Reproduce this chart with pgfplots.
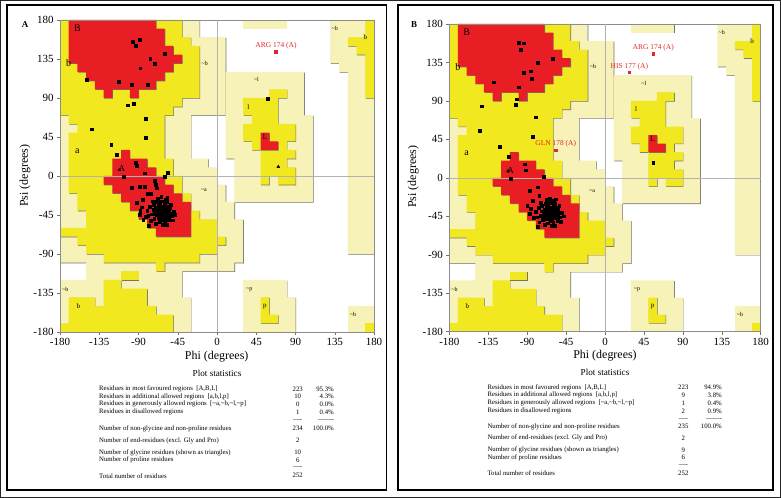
\documentclass[border=0pt]{standalone}
\usepackage{pgfplots}
\pgfplotsset{compat=1.18}
\usepackage{fontspec}
\setmainfont{Liberation Serif}
\definecolor{rcRed}{RGB}{232,30,36}
\definecolor{rcYel}{RGB}{242,232,32}
\definecolor{rcPale}{RGB}{247,242,184}
\definecolor{rcLab}{RGB}{228,40,40}

\newcommand{\rreg}[2]{%
 \addplot[draw=none, fill=black!55, forget plot, xshift=0.6bp, yshift=-0.6bp] coordinates {#2};
 \addplot[draw=none, fill=#1, forget plot] coordinates {#2};}

\newcommand{\ramaregions}{%
 \rreg{rcPale}{(-180,180)(-20,180)(-20,160)(10,160)(10,70)(-30,70)(-30,20)(-10,20)(-10,10)(0,10)(0,-10)(10,-10)(10,-30)(20,-30)(20,-50)(30,-50)(30,-100)(20,-100)(20,-110)(-40,-110)(-40,-140)(-30,-140)(-30,-180)(-180,-180)(-180,-120)(-150,-120)(-150,-100)(-180,-100)}
 \rreg{rcPale}{(30,180)(80,180)(80,170)(30,170)}
 \rreg{rcPale}{(10,120)(100,120)(100,70)(110,70)(110,-30)(20,-30)(20,20)(10,20)}
 \rreg{rcPale}{(130,180)(180,180)(180,-90)(150,-90)(150,120)(140,120)(140,130)(130,130)}
 \rreg{rcPale}{(30,-120)(80,-120)(80,-140)(90,-140)(90,-180)(30,-180)}
 \rreg{rcPale}{(150,-150)(180,-150)(180,-180)(150,-180)}
 \rreg{rcYel}{(-180,180)(-40,180)(-40,160)(-30,160)(-30,150)(-20,150)(-20,90)(-40,90)(-40,80)(-50,80)(-50,70)(-60,70)(-60,20)(-50,20)(-50,0)(-40,0)(-40,-20)(-30,-20)(-30,-40)(-20,-40)(-20,-50)(0,-50)(0,-70)(10,-70)(10,-80)(0,-80)(0,-90)(-20,-90)(-20,-100)(-60,-100)(-60,-110)(-70,-110)(-70,-100)(-130,-100)(-130,-90)(-150,-90)(-150,-80)(-160,-80)(-160,-70)(-180,-70)(-180,-60)(-150,-60)(-150,-40)(-160,-40)(-160,-20)(-170,-20)(-170,50)(-160,50)(-160,60)(-170,60)(-170,70)(-180,70)}
 \rreg{rcYel}{(-110,-110)(-90,-110)(-90,-120)(-110,-120)}
 \rreg{rcYel}{(-130,-120)(-110,-120)(-110,-130)(-80,-130)(-80,-150)(-70,-150)(-70,-160)(-50,-160)(-50,-180)(-180,-180)(-180,-170)(-170,-170)(-170,-140)(-140,-140)(-140,-150)(-130,-150)}
 \rreg{rcYel}{(60,100)(80,100)(80,90)(70,90)(70,60)(90,60)(90,40)(80,40)(80,30)(90,30)(90,20)(80,20)(80,10)(90,10)(90,-10)(70,-10)(70,0)(60,0)(60,-10)(50,-10)(50,30)(40,30)(40,40)(30,40)(30,60)(40,60)(40,70)(30,70)(30,90)(60,90)}
 \rreg{rcYel}{(170,180)(180,180)(180,90)(170,90)(170,140)(160,140)(160,150)(150,150)(150,160)(170,160)}
 \rreg{rcYel}{(50,-140)(60,-140)(60,-160)(70,-160)(70,-170)(50,-170)}
 \rreg{rcYel}{(170,-170)(180,-170)(180,-180)(170,-180)}
 \rreg{rcRed}{(-170,180)(-70,180)(-70,170)(-60,170)(-60,150)(-50,150)(-50,140)(-40,140)(-40,130)(-50,130)(-50,120)(-60,120)(-60,110)(-70,110)(-70,100)(-90,100)(-90,90)(-100,90)(-100,100)(-120,100)(-120,90)(-130,90)(-130,100)(-140,100)(-140,110)(-150,110)(-150,120)(-160,120)(-160,130)(-170,130)}
 \rreg{rcRed}{(-110,30)(-100,30)(-100,20)(-80,20)(-80,10)(-70,10)(-70,0)(-60,0)(-60,-10)(-50,-10)(-50,-20)(-40,-20)(-40,-30)(-30,-30)(-30,-70)(-70,-70)(-70,-60)(-80,-60)(-80,-50)(-90,-50)(-90,-40)(-100,-40)(-100,-30)(-110,-30)(-110,-20)(-120,-20)(-120,-10)(-130,-10)(-130,0)(-120,0)(-120,20)(-110,20)}
 \rreg{rcRed}{(50,50)(60,50)(60,40)(70,40)(70,30)(50,30)}
}

\newcommand{\ramalabels}{%
 \node[font=\fontsize{10}{10}\selectfont] at (axis cs:-160,170) {B};
 \node[font=\fontsize{10}{10}\selectfont] at (axis cs:-170,130) {b};
 \node[font=\fontsize{6}{6}\selectfont] at (axis cs:-14,130) {\textasciitilde b};
 \node[font=\fontsize{10}{10}\selectfont] at (axis cs:-160,29) {a};
 \node[font=\fontsize{9}{9}\selectfont] at (axis cs:-109,9) {A};
 \node[font=\fontsize{6}{6}\selectfont] at (axis cs:-15,-16) {\textasciitilde a};
 \node[font=\fontsize{6}{6}\selectfont] at (axis cs:45,111) {\textasciitilde l};
 \node[font=\fontsize{7}{7}\selectfont] at (axis cs:36,80) {l};
 \node[font=\fontsize{8}{8}\selectfont] at (axis cs:55,45) {L};
 \node[font=\fontsize{6}{6}\selectfont] at (axis cs:135,170) {\textasciitilde b};
 \node[font=\fontsize{7}{7}\selectfont] at (axis cs:170,160) {b};
 \node[font=\fontsize{6}{6}\selectfont] at (axis cs:-174,-131) {\textasciitilde b};
 \node[font=\fontsize{7}{7}\selectfont] at (axis cs:-159,-150) {b};
 \node[font=\fontsize{6}{6}\selectfont] at (axis cs:37,-131) {\textasciitilde p};
 \node[font=\fontsize{7}{7}\selectfont] at (axis cs:55,-151) {p};
 \node[font=\fontsize{6}{6}\selectfont] at (axis cs:156,-160) {\textasciitilde b};
}

\pgfplotsset{rama/.style={
  anchor=south west, scale only axis,
  xmin=-180, xmax=180, ymin=-180, ymax=180,
  xtick={-180,-135,...,180}, ytick={-180,-135,...,180},
  tick align=outside, xtick pos=left, ytick pos=left,
  major tick length=3bp,
  axis line style={black!45, line width=0.6pt},
  tick style={black!55, line width=0.5pt},
  ticklabel style={font=\fontsize{11}{11}\selectfont},
  /pgf/number format/assume math mode=true,
  extra x ticks={0}, extra y ticks={0},
  extra x tick labels={}, extra y tick labels={},
  extra tick style={grid=major, major grid style={black!30, line width=0.5pt}},
  axis on top,
}}

\begin{document}
\begin{tikzpicture}[x=1bp,y=1bp]
\useasboundingbox (0,0) rectangle (781,498);
\fill[white] (0,0) rectangle (781,498);
\draw[line width=1bp, black!85] (0.5,0.5) rectangle (780.5,497.5);
\draw[line width=1.6bp] (7,8) rectangle (386.5,493);
\draw[line width=1.6bp] (398,8) rectangle (773,493);

% ---------------- Panel A ----------------
\begin{axis}[rama, at={(60bp,166bp)}, width=314bp, height=312bp]
 \ramaregions
 \addplot[only marks, mark=square*, mark size=1.4pt, black] coordinates {
 (-96.7,155) (-89,157) (-92.9,150.4) (-60.4,140.8) (-76.5,135) (-71.4,129.6) (-88,124.3)
 (-149.4,110.8) (-112.4,108.8) (-97.8,105) (-79.6,105) (-102.4,81.6) (-95.5,83.4)
 (-82.2,65.8) (-143.3,53.9) (-81.8,44.2) (-121.2,35.8) (-114.6,24.2)
 (-93.2,15.4) (-92.1,11.9) (-83.3,3.1) (-56.5,4.2) (-60.4,-0.8) (-106.6,-0.8)
 (-97.8,-13.5) (-89,-12.7) (-83,-12.7) (-71.4,-5.8) (-70.7,-9.6) (-79.1,-20.8) (-69.1,-14.2)
 (-92.1,-31.2) (-85.2,-27.7) (-89,-45) (-84.5,-50.8) (58.1,89.2)
 (-63,-40) (-61,-42) (-65,-38) (-60,-38) (-66,-43) (-62,-45) (-58,-41) (-64,-35) (-68,-40)
 (-57,-44) (-61,-36) (-65,-46) (-59,-47) (-63,-50) (-67,-48) (-55,-39) (-70,-37) (-60,-33)
 (-66,-32) (-56,-35) (-54,-43) (-71,-44) (-62,-29) (-58,-30) (-69,-30) (-73,-39) (-52,-46)
 (-60,-52) (-66,-53) (-55,-50) (-72,-49) (-75,-44) (-50,-41) (-68,-26) (-64,-24) (-57,-25)
 (-77,-35) (-79,-46) (-53,-33) (-48,-45) (-62,-56) (-70,-55) (-58,-56) (-74,-29) (-67,-36)
 (-61,-48) (-64,-42) (-59,-44) (-63,-37) (-66,-41) (-69,-45) (-56,-47) (-60,-40) (-62,-39)
 (-65,-41) (-58,-37) (-64,-47) (-67,-33) (-71,-40) (-54,-37) (-73,-33) (-76,-52) (-80,-40)
 (-51,-51) (-59,-27) (-65,-29) (-85,-27) (-92,-31) (-82,-47) (-76,-20) (-88,-40) (-86,-36) (-78,-57)
 };
 \addplot[only marks, mark=triangle*, mark size=1.7pt, black] coordinates {(-112,7) (70.3,10.7) (-66,-37) (-60,-44)};
 \addplot[only marks, mark=square*, mark size=1.3pt, rcLab] coordinates {(67.6,143.5)};
 \node[font=\fontsize{7.5}{7.5}\selectfont, text=rcLab, anchor=south, inner sep=1bp] at (axis cs:67.6,145) {ARG 174 (A)};
 \ramalabels
\end{axis}

% ---------------- Panel B ----------------
\begin{axis}[rama, at={(449.3bp,166.3bp)}, width=311.4bp, height=307.7bp]
 \ramaregions
 \addplot[only marks, mark=square*, mark size=1.4pt, black] coordinates {
 (-99.4,158.2) (-94,157.4) (-97.1,149.6) (-60.5,139.5) (-77.8,134.8) (-94,123.1) (-85.9,124.7)
 (-84.7,115.7) (-129.1,111.8) (-100.2,106) (-102.1,92) (-103.7,85.3) (-142.6,83.8) (-79.8,70.9)
 (-145.3,55) (-84,48.3) (-121.4,36.2) (-111,24.5) (-93.3,16) (-92.1,9) (-109,-0.8) (-70.9,1.5)
 (-87.5,-14.8) (-78,-11) (55.8,17.9)
 (-63,-40) (-61,-42) (-65,-38) (-60,-38) (-66,-43) (-62,-45) (-58,-41) (-64,-35) (-68,-40)
 (-57,-44) (-61,-36) (-65,-46) (-59,-47) (-63,-50) (-67,-48) (-55,-39) (-70,-37) (-60,-33)
 (-66,-32) (-56,-35) (-54,-43) (-71,-44) (-62,-29) (-58,-30) (-69,-30) (-73,-39) (-52,-46)
 (-60,-52) (-66,-53) (-55,-50) (-72,-49) (-75,-44) (-50,-41) (-68,-26) (-64,-24) (-57,-25)
 (-77,-35) (-79,-46) (-53,-33) (-48,-45) (-62,-56) (-70,-55) (-58,-56) (-74,-29) (-67,-36)
 (-61,-48) (-64,-42) (-59,-44) (-63,-37) (-66,-41) (-69,-45) (-56,-47) (-60,-40) (-62,-39)
 (-65,-41) (-58,-37) (-64,-47) (-67,-33) (-71,-40) (-54,-37) (-73,-33) (-76,-52) (-80,-40)
 (-51,-51) (-59,-27) (-65,-29) (-84,-27) (-90,-33) (-82,-47) (-76,-21) (-87,-42) (-86,-36) (-78,-57)
 };
 \addplot[only marks, mark=triangle*, mark size=1.7pt, black] coordinates {(-112,8) (-66,-37) (-60,-44)};
 \addplot[only marks, mark=square*, mark size=1.3pt, rcLab] coordinates {(55.8,144.9) (28.1,123.5) (-57,32.4)};
 \node[font=\fontsize{7.5}{7.5}\selectfont, text=rcLab, anchor=south, inner sep=1bp] at (axis cs:55.8,146.5) {ARG 174 (A)};
 \node[font=\fontsize{7.5}{7.5}\selectfont, text=rcLab, anchor=south, inner sep=1bp] at (axis cs:28.1,125) {HIS 177 (A)};
 \node[font=\fontsize{7.5}{7.5}\selectfont, text=rcLab, anchor=south, inner sep=1bp] at (axis cs:-57,34) {GLN 178 (A)};
 \ramalabels
\end{axis}

% labels
\node[font=\bfseries\fontsize{9}{9}\selectfont] at (25,473) {A};
\node[font=\bfseries\fontsize{9}{9}\selectfont] at (414,473) {B};
\node[rotate=90, font=\fontsize{12}{12}\selectfont] at (25,322.3) {Psi (degrees)};
\node[rotate=90, font=\fontsize{12}{12}\selectfont] at (413.3,321.3) {Psi (degrees)};
\node[font=\fontsize{12}{12}\selectfont] at (216.7,141.3) {Phi (degrees)};
\node[font=\fontsize{12}{12}\selectfont] at (605,142) {Phi (degrees)};
\node[font=\fontsize{9.2}{9.2}\selectfont] at (217,125) {Plot statistics};
\node[font=\fontsize{9.2}{9.2}\selectfont] at (605,125.3) {Plot statistics};

% ---- table A
\begin{scope}[every node/.style={font=\fontsize{6.8}{6.8}\selectfont, inner sep=0pt}]
\node[anchor=west] at (99,109) {Residues in most favoured regions\ \ [A,B,L]};
\node[anchor=west] at (99,101.3) {Residues in additional allowed regions\ \ [a,b,l,p]};
\node[anchor=west] at (99,93.7) {Residues in generously allowed regions\ \ [\textasciitilde a,\textasciitilde b,\textasciitilde l,\textasciitilde p]};
\node[anchor=west] at (99,86) {Residues in disallowed regions};
\node[anchor=west] at (99,69.3) {Number of non-glycine and non-proline residues};
\node[anchor=west] at (99,57.3) {Number of end-residues (excl. Gly and Pro)};
\node[anchor=west] at (99,45.3) {Number of glycine residues (shown as triangles)};
\node[anchor=west] at (99,37.7) {Number of proline residues};
\node[anchor=west] at (99,22.3) {Total number of residues};
\node at (297.7,109) {223}; \node at (297.7,101.3) {10}; \node at (297.7,93.7) {0}; \node at (297.7,86) {1};
\node at (297.7,77) {----}; \node at (297.7,69.3) {234}; \node at (297.7,57.3) {2};
\node at (297.7,45.3) {10}; \node at (297.7,37.7) {6}; \node at (297.7,30) {----}; \node at (297.7,22.3) {252};
\node[anchor=east] at (334,109) {95.3\%}; \node[anchor=east] at (334,101.3) {4.3\%};
\node[anchor=east] at (334,93.7) {0.0\%}; \node[anchor=east] at (334,86) {0.4\%};
\node[anchor=east] at (334,77) {-------}; \node[anchor=east] at (334,69.3) {100.0\%};
% ---- table B
\node[anchor=west] at (487.3,110.3) {Residues in most favoured regions\ \ [A,B,L]};
\node[anchor=west] at (487.3,102.7) {Residues in additional allowed regions\ \ [a,b,l,p]};
\node[anchor=west] at (487.3,94.7) {Residues in generously allowed regions\ \ [\textasciitilde a,\textasciitilde b,\textasciitilde l,\textasciitilde p]};
\node[anchor=west] at (487.3,87) {Residues in disallowed regions};
\node[anchor=west] at (487.3,71.3) {Number of non-glycine and non-proline residues};
\node[anchor=west] at (487.3,59.7) {Number of end-residues (excl. Gly and Pro)};
\node[anchor=west] at (487.3,48) {Number of glycine residues (shown as triangles)};
\node[anchor=west] at (487.3,40.3) {Number of proline residues};
\node[anchor=west] at (487.3,24.7) {Total number of residues};
\node at (683.3,110.3) {223}; \node at (683.3,102.7) {9}; \node at (683.3,94.7) {1}; \node at (683.3,87) {2};
\node at (683.3,78.5) {----}; \node at (683.3,71.3) {235}; \node at (683.3,59.7) {2};
\node at (683.3,48) {9}; \node at (683.3,40.3) {6}; \node at (683.3,32.5) {----}; \node at (683.3,24.7) {252};
\node[anchor=east] at (722,110.3) {94.9\%}; \node[anchor=east] at (722,102.7) {3.8\%};
\node[anchor=east] at (722,94.7) {0.4\%}; \node[anchor=east] at (722,87) {0.9\%};
\node[anchor=east] at (722,78.5) {-------}; \node[anchor=east] at (722,71.3) {100.0\%};
\end{scope}
\end{tikzpicture}
\end{document}
